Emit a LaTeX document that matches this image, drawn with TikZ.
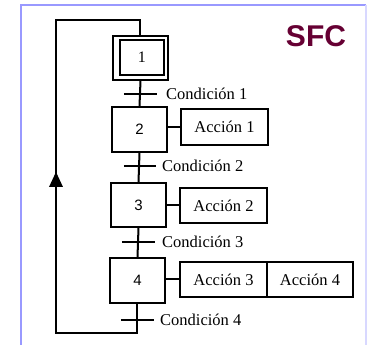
\documentclass[tikz,border=0pt]{standalone}
\usepackage{fontspec}
\setmainfont{Liberation Serif}
\newfontfamily\sfcfont{Liberation Sans}
\usetikzlibrary{arrows.meta}
\definecolor{frameblue}{HTML}{9999FF}
\definecolor{framelight}{HTML}{D8D8FF}
\definecolor{sfcred}{HTML}{660033}
\tikzset{
  stepbox/.style={draw, line width=2pt, minimum width=55pt, minimum height=45pt, inner sep=0pt, font=\sfcfont\fontsize{15}{15}\selectfont},
  actbox/.style={draw, line width=2pt, minimum width=87pt, minimum height=35pt, inner sep=0pt, font=\fontsize{16.5}{16.5}\selectfont},
  condlbl/.style={anchor=west, inner sep=0pt, font=\fontsize{16.5}{16.5}\selectfont},
  wire/.style={line width=2pt},
}
\begin{document}
\begin{tikzpicture}[x=1pt,y=-1pt]
\useasboundingbox (0,0) rectangle (368,345);
% frame
\draw[frameblue, line width=2pt] (21,345) -- (21,5) -- (366,5);
\draw[framelight, line width=1.5pt] (366,5) -- (366,345);
% title
\node[font=\sfcfont\bfseries\fontsize{30}{30}\selectfont, text=sfcred, inner sep=0pt] (title) at (316,36) {SFC};
% steps
\node[draw, line width=2pt, minimum width=55pt, minimum height=44pt, inner sep=0pt] (s1) at (140.5,58) {};
\node[draw, line width=2pt, minimum width=44pt, minimum height=35pt, inner sep=0pt, font=\fontsize{16}{16}\selectfont] (s1i) at (142,57.5) {1};
\node[stepbox] (s2) at (139.5,129.5) {2};
\node[stepbox, minimum height=44pt] (s3) at (138.5,205) {3};
\node[stepbox] (s4) at (137.5,280.5) {4};
% actions
\node[actbox, minimum height=36pt] (a1) at (224.5,127) {Acción 1};
\node[actbox] (a2) at (223.5,205.5) {Acción 2};
\node[actbox] (a3) at (223.5,279.5) {Acción 3};
\node[actbox, minimum width=86pt] (a4) at (310,279.5) {Acción 4};
% transitions
\coordinate (t1l) at (124,94); \coordinate (t1r) at (157,94);
\coordinate (t2l) at (124,166); \coordinate (t2r) at (156,166);
\coordinate (t3l) at (122,242); \coordinate (t3r) at (155,242);
\coordinate (t4l) at (121,320); \coordinate (t4r) at (154,320);
\draw[wire] (t1l) -- (t1r);
\draw[wire] (t2l) -- (t2r);
\draw[wire] (t3l) -- (t3r);
\draw[wire] (t4l) -- (t4r);
\node[condlbl] (c1) at (166,94) {Condición 1};
\node[condlbl] (c2) at (162,166) {Condición 2};
\node[condlbl] (c3) at (162,242) {Condición 3};
\node[condlbl] (c4) at (160,320) {Condición 4};
% vertical links
\draw[wire] (s1.south) -- (s2.north);
\draw[wire] (s2.south) -- (s3.north);
\draw[wire] (s3.south) -- (s4.north);
% action links
\draw[wire] (a1.west) -- (a1.west -| s2.east);
\draw[wire] (a2.west) -- (a2.west -| s3.east);
\draw[wire] (a3.west) -- (a3.west -| s4.east);
% loop back
\coordinate (lb) at (137.5,333);
\coordinate (ll) at (56,333);
\coordinate (la) at (56,172);
\coordinate (lt) at (56,20);
\coordinate (lr) at (140.5,20);
\draw[wire] (s4.south) -- (lb) -- (ll) -- (la) -- (lt) -- (lr) -- (s1.north);
\fill (la) -- (49,187) -- (63,187) -- cycle;
\end{tikzpicture}
\end{document}
